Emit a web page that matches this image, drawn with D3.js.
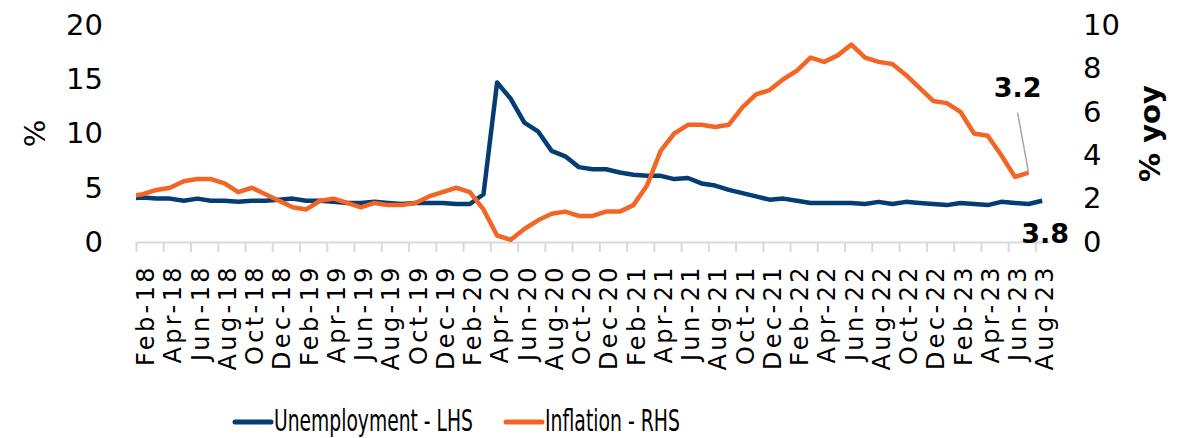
<!DOCTYPE html>
<html>
<head>
<meta charset="utf-8">
<script src="https://cdn.jsdelivr.net/npm/d3@7"></script>
<style>
  body { margin: 0; background: #fff; }
  svg { display: block; }
</style>
</head>
<body>
<div id="chart"></div>
<script>
//Months, Jan-18 is kept only so the line enters from the left edge like the original
const months = [
  "Jan-18","Feb-18","Mar-18","Apr-18","May-18","Jun-18","Jul-18","Aug-18","Sep-18","Oct-18","Nov-18","Dec-18",
  "Jan-19","Feb-19","Mar-19","Apr-19","May-19","Jun-19","Jul-19","Aug-19","Sep-19","Oct-19","Nov-19","Dec-19",
  "Jan-20","Feb-20","Mar-20","Apr-20","May-20","Jun-20","Jul-20","Aug-20","Sep-20","Oct-20","Nov-20","Dec-20",
  "Jan-21","Feb-21","Mar-21","Apr-21","May-21","Jun-21","Jul-21","Aug-21","Sep-21","Oct-21","Nov-21","Dec-21",
  "Jan-22","Feb-22","Mar-22","Apr-22","May-22","Jun-22","Jul-22","Aug-22","Sep-22","Oct-22","Nov-22","Dec-22",
  "Jan-23","Feb-23","Mar-23","Apr-23","May-23","Jun-23","Jul-23","Aug-23"
];

//Unemployment rate, % (LHS)
const unemployment = [
  4.0, 4.1, 4.0, 4.0, 3.8, 4.0, 3.8, 3.8, 3.7, 3.8, 3.8, 3.9,
  4.0, 3.8, 3.8, 3.7, 3.6, 3.6, 3.7, 3.6, 3.5, 3.6, 3.6, 3.6,
  3.5, 3.5, 4.4, 14.7, 13.2, 11.0, 10.2, 8.4, 7.9, 6.9, 6.7, 6.7,
  6.4, 6.2, 6.1, 6.1, 5.8, 5.9, 5.4, 5.2, 4.8, 4.5, 4.2, 3.9,
  4.0, 3.8, 3.6, 3.6, 3.6, 3.6, 3.5, 3.7, 3.5, 3.7, 3.6, 3.5,
  3.4, 3.6, 3.5, 3.4, 3.7, 3.6, 3.5, 3.8
];

//Inflation, % yoy (RHS), ends in Jul-23
const inflation = [
  2.1, 2.2, 2.4, 2.5, 2.8, 2.9, 2.9, 2.7, 2.3, 2.5, 2.2, 1.9,
  1.6, 1.5, 1.9, 2.0, 1.8, 1.6, 1.8, 1.7, 1.7, 1.8, 2.1, 2.3,
  2.5, 2.3, 1.5, 0.3, 0.1, 0.6, 1.0, 1.3, 1.4, 1.2, 1.2, 1.4,
  1.4, 1.7, 2.6, 4.2, 5.0, 5.4, 5.4, 5.3, 5.4, 6.2, 6.8, 7.0,
  7.5, 7.9, 8.5, 8.3, 8.6, 9.1, 8.5, 8.3, 8.2, 7.7, 7.1, 6.5,
  6.4, 6.0, 5.0, 4.9, 4.0, 3.0, 3.2
];

const leftTicks = [0, 5, 10, 15, 20];
const rightTicks = [0, 2, 4, 6, 8, 10];
const seriesNames = ["Unemployment - LHS", "Inflation - RHS"];

//dimensions
const width = 1191;
const height = 438;
const plotLeft = 136, plotRight = 1049, plotTop = 25, plotBottom = 242;
const navy = "#043c74";
const orange = "#f26524";
const font = "'DejaVu Sans', sans-serif";

const svg = d3.select("#chart").append("svg").attr("width", width).attr("height", height);

//x is a month index, first shown month is Feb-18 (index 1)
const x = d3.scaleLinear().domain([0.5, months.length - 0.5]).range([plotLeft, plotRight]);
const yL = d3.scaleLinear().domain([0, 20]).range([plotBottom, plotTop]);
const yR = d3.scaleLinear().domain([0, 10]).range([plotBottom, plotTop]);

//clip so the lines stop at the plot edge
svg.append("clipPath").attr("id", "clip")
  .append("rect").attr("x", plotLeft).attr("y", 0).attr("width", plotRight - plotLeft).attr("height", height);

//x axis: ticks every two months between categories
const tickPos = d3.range(0.5, months.length - 1, 2);
const xAxis = svg.append("g").attr("transform", `translate(0, ${plotBottom})`)
  .call(d3.axisBottom(x).tickValues(tickPos).tickSize(10).tickSizeOuter(0).tickFormat(""));
xAxis.select(".domain").attr("stroke", "#d9d9d9").attr("stroke-width", 2);
xAxis.selectAll(".tick line").attr("stroke", "#d9d9d9").attr("stroke-width", 2);

//x labels every other month starting Feb-18
const labelIdx = d3.range(1, months.length, 2);
svg.append("g").selectAll("text").data(labelIdx).enter().append("text")
  .attr("transform", i => `translate(${x(i) + 4}, 264) rotate(-90)`)
  .attr("text-anchor", "end")
  .attr("dy", "0.3em")
  .style("font-family", font).style("font-size", "24px").style("letter-spacing", "3.4px")
  .attr("fill", "#000")
  .text(i => months[i]);

//left axis
const yAxisL = svg.append("g").attr("transform", `translate(${plotLeft}, 0)`)
  .call(d3.axisLeft(yL).tickValues(leftTicks).tickSize(0).tickPadding(33));
yAxisL.select(".domain").remove();
yAxisL.selectAll("text").style("font-family", font).style("font-size", "29px").attr("fill", "#000");

//right axis
const yAxisR = svg.append("g").attr("transform", `translate(${plotRight}, 0)`)
  .call(d3.axisRight(yR).tickValues(rightTicks).tickSize(0).tickPadding(34));
yAxisR.select(".domain").remove();
yAxisR.selectAll("text").style("font-family", font).style("font-size", "29px").attr("fill", "#000");

//axis titles
svg.append("text").attr("transform", `translate(35, ${(plotTop + plotBottom) / 2}) rotate(-90)`)
  .attr("text-anchor", "middle").attr("dy", "0.35em")
  .style("font-family", font).style("font-size", "29px").text("%");
svg.append("text").attr("transform", `translate(1150, ${(plotTop + plotBottom) / 2}) rotate(-90)`)
  .attr("text-anchor", "middle").attr("dy", "0.35em")
  .style("font-family", font).style("font-size", "29px").style("font-weight", "bold").text("% yoy");

//lines
const lineL = d3.line().x((d, i) => x(i)).y(d => yL(d));
const lineR = d3.line().x((d, i) => x(i)).y(d => yR(d));
const plot = svg.append("g").attr("clip-path", "url(#clip)");
plot.append("path").datum(unemployment).attr("d", lineL)
  .attr("fill", "none").attr("stroke", navy).attr("stroke-width", 4.5).attr("stroke-linejoin", "round");
plot.append("path").datum(inflation).attr("d", lineR)
  .attr("fill", "none").attr("stroke", orange).attr("stroke-width", 4.5).attr("stroke-linejoin", "round");

//data labels on the last points
const lastI = inflation.length - 1;
const lastU = unemployment.length - 1;
svg.append("line")
  .attr("x1", x(lastI) - 11).attr("y1", yR(inflation[lastI]) - 60)
  .attr("x2", x(lastI)).attr("y2", yR(inflation[lastI]))
  .attr("stroke", "#a6a6a6").attr("stroke-width", 1.5);
svg.append("text").attr("x", x(lastI) - 11).attr("y", yR(inflation[lastI]) - 85)
  .attr("text-anchor", "middle").attr("dy", "0.35em")
  .style("font-family", font).style("font-size", "27px").style("font-weight", "bold")
  .text(inflation[lastI].toFixed(1));
svg.append("text").attr("x", x(lastU) + 3).attr("y", yL(0) - 8)
  .attr("text-anchor", "middle").attr("dy", "0.35em")
  .style("font-family", font).style("font-size", "27px").style("font-weight", "bold")
  .text(unemployment[lastU].toFixed(1));

//legend, text squeezed horizontally to the narrow look of the original
const legend = [
  { name: seriesNames[0], color: navy, x: 235, len: 199 },
  { name: seriesNames[1], color: orange, x: 506, len: 135 }
];
const lg = svg.append("g").selectAll("g").data(legend).enter().append("g")
  .attr("transform", d => `translate(${d.x}, 422)`);
lg.append("line").attr("x1", 0).attr("x2", 36).attr("stroke", d => d.color)
  .attr("stroke-width", 5).attr("stroke-linecap", "round");
lg.append("text")
  .style("font-family", font).style("font-size", "30px")
  .text(d => d.name)
  .attr("transform", function(d) {
    const w = this.getComputedTextLength();
    return `translate(39, 9) scale(${d.len / w}, 1)`;
  });
</script>
</body>
</html>
